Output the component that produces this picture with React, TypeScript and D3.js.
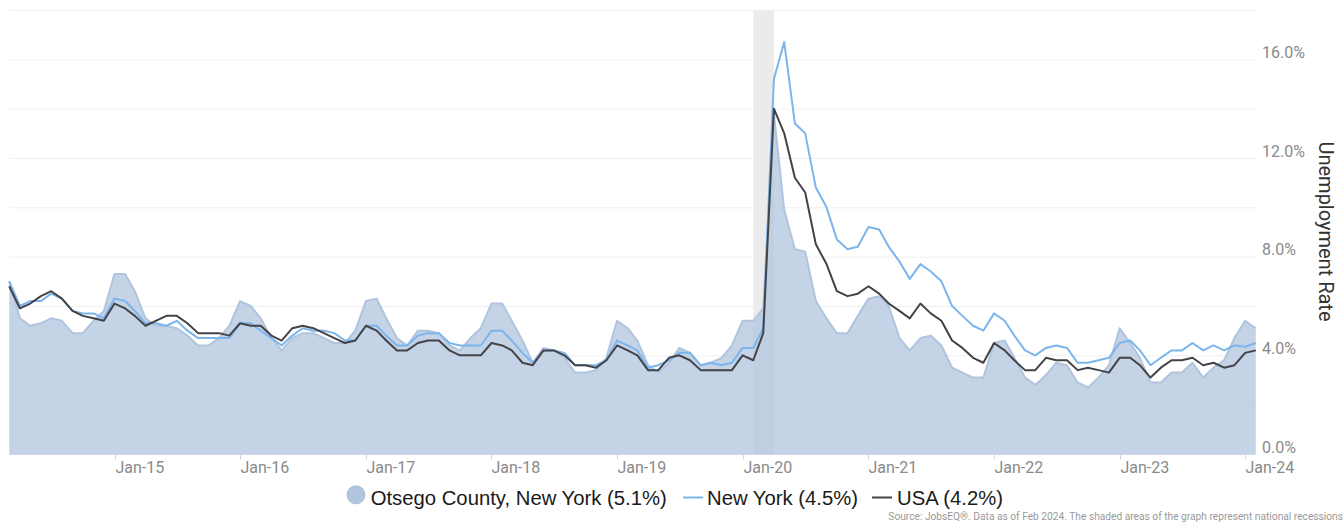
import React from "react";
import * as d3 from "d3";

// Months: Mar 2014 .. Feb 2024 (monthly)
const months: Date[] = d3.timeMonth.range(new Date(2014, 2, 1), new Date(2024, 2, 1));

const otsego: number[] = [
  7.0, 5.5, 5.2, 5.3, 5.5, 5.4, 4.9, 4.9, 5.4, 5.8,
  7.3, 7.3, 6.6, 5.5, 5.2, 5.2, 5.1, 4.8, 4.4, 4.4,
  4.7, 5.2, 6.2, 6.0, 5.5, 4.7, 4.2, 4.7, 4.9, 4.9,
  4.7, 4.5, 4.5, 5.0, 6.2, 6.3, 5.5, 4.7, 4.4, 5.0,
  5.0, 4.9, 4.4, 4.2, 4.7, 5.1, 6.1, 6.1, 5.4, 4.6,
  3.7, 4.3, 4.2, 3.9, 3.3, 3.3, 3.4, 3.9, 5.4, 5.1,
  4.6, 3.6, 3.3, 3.7, 4.3, 4.1, 3.6, 3.7, 3.9, 4.4,
  5.4, 5.4, 5.9, 13.8, 9.9, 8.3, 8.2, 6.2, 5.5, 4.9,
  4.9, 5.6, 6.3, 6.4, 6.0, 4.7, 4.2, 4.7, 4.8, 4.4,
  3.5, 3.3, 3.1, 3.1, 4.5, 4.6, 3.9, 3.1, 2.8, 3.2,
  3.7, 3.6, 2.9, 2.7, 3.1, 3.6, 5.1, 4.5, 3.9, 2.9,
  2.9, 3.3, 3.3, 3.7, 3.1, 3.5, 3.8, 4.7, 5.4, 5.1,
];

const newYork: number[] = [
  7.0, 6.0, 6.2, 6.2, 6.5, 6.3, 5.8, 5.7, 5.7, 5.5,
  6.3, 6.2, 5.8, 5.3, 5.3, 5.2, 5.4, 5.0, 4.7, 4.7,
  4.7, 4.7, 5.3, 5.3, 5.0, 4.7, 4.4, 4.8, 5.1, 5.0,
  5.0, 4.9, 4.6, 4.6, 5.2, 5.2, 4.8, 4.4, 4.4, 4.8,
  4.9, 4.9, 4.5, 4.4, 4.4, 4.4, 5.0, 5.0, 4.6, 4.1,
  3.7, 4.2, 4.2, 4.1, 3.6, 3.6, 3.6, 3.8, 4.6, 4.4,
  4.2, 3.5, 3.6, 3.8, 4.1, 4.1, 3.6, 3.7, 3.6, 3.7,
  4.3, 4.3, 5.1, 15.2, 16.7, 13.4, 13.0, 10.8, 10.0, 8.7,
  8.3, 8.4, 9.2, 9.1, 8.4, 7.8, 7.1, 7.7, 7.4, 7.0,
  6.0, 5.6, 5.2, 5.0, 5.7, 5.4, 4.8, 4.2, 4.0, 4.3,
  4.4, 4.3, 3.7, 3.7, 3.8, 3.9, 4.5, 4.6, 4.2, 3.6,
  3.9, 4.2, 4.2, 4.5, 4.2, 4.4, 4.2, 4.4, 4.35, 4.5,
];

const usa: number[] = [
  6.8, 5.9, 6.1, 6.4, 6.6, 6.3, 5.8, 5.6, 5.5, 5.4,
  6.1, 5.9, 5.6, 5.2, 5.4, 5.6, 5.6, 5.3, 4.9, 4.9,
  4.9, 4.8, 5.3, 5.2, 5.2, 4.8, 4.6, 5.1, 5.2, 5.1,
  4.9, 4.7, 4.5, 4.6, 5.2, 5.0, 4.6, 4.2, 4.2, 4.5,
  4.6, 4.6, 4.2, 4.0, 4.0, 4.0, 4.5, 4.4, 4.2, 3.7,
  3.6, 4.2, 4.2, 4.0, 3.6, 3.6, 3.5, 3.8, 4.4, 4.2,
  4.0, 3.4, 3.4, 3.9, 4.0, 3.8, 3.4, 3.4, 3.4, 3.4,
  4.0, 3.8, 4.9, 14.0, 13.0, 11.2, 10.6, 8.5, 7.7, 6.6,
  6.4, 6.5, 6.8, 6.5, 6.1, 5.8, 5.5, 6.1, 5.7, 5.4,
  4.6, 4.3, 3.9, 3.7, 4.5, 4.2, 3.8, 3.4, 3.4, 3.9,
  3.8, 3.8, 3.4, 3.5, 3.4, 3.3, 3.9, 3.9, 3.6, 3.1,
  3.5, 3.8, 3.8, 3.9, 3.6, 3.7, 3.5, 3.6, 4.1, 4.2,
];

const xTickYears: number[] = [2015, 2016, 2017, 2018, 2019, 2020, 2021, 2022, 2023, 2024];
const yTickLabels: number[] = [0, 4, 8, 12, 16];
const gridValues: number[] = [0, 2, 4, 6, 8, 10, 12, 14, 16, 18];
const recession: [Date, Date] = [new Date(2020, 1, 1), new Date(2020, 3, 1)];

const legendItems = [
  { name: "Otsego County, New York (5.1%)" },
  { name: "New York (4.5%)" },
  { name: "USA (4.2%)" },
];

const W = 1344;
const H = 523;
const AREA_COLOR = "#b0c4de";
const NY_COLOR = "#7cb5ec";
const USA_COLOR = "#434348";

export default function App() {
  const x = d3
    .scaleTime()
    .domain([months[0], months[months.length - 1]])
    .range([9.25, 1255.8]);
  const y = d3.scaleLinear().domain([0, 18]).range([454, 10]);

  const area = d3
    .area<number>()
    .x((_, i) => x(months[i]))
    .y0(y(0))
    .y1((d) => y(d));
  const line = d3
    .line<number>()
    .x((_, i) => x(months[i]))
    .y((d) => y(d));

  const fmtX = d3.timeFormat("%b-%y");
  const x0 = x.range()[0];
  const x1 = x.range()[1];

  return (
    <div style={{ position: "absolute", left: 0, top: 0 }}>
      <svg width={W} height={H} style={{ display: "block", background: "#fff" }}>
        {/* gridlines */}
        {gridValues.map((g) => (
          <line key={g} x1={x0} x2={x1} y1={y(g) + 0.5} y2={y(g) + 0.5} stroke="#efefef" strokeWidth={1} />
        ))}
        {/* recession band */}
        <rect
          x={x(recession[0])}
          y={y(18)}
          width={x(recession[1]) - x(recession[0])}
          height={y(0) - y(18)}
          fill="#ebebeb"
        />
        {/* area */}
        <path d={area(otsego) || ""} fill={AREA_COLOR} fillOpacity={0.75} />
        <path d={line(otsego) || ""} fill="none" stroke={AREA_COLOR} strokeWidth={2} strokeLinejoin="round" />
        <path d={line(newYork) || ""} fill="none" stroke={NY_COLOR} strokeWidth={2} strokeLinejoin="round" />
        <path d={line(usa) || ""} fill="none" stroke={USA_COLOR} strokeWidth={2} strokeLinejoin="round" />

        {/* x axis */}
        <line x1={x0} x2={x1} y1={454.5} y2={454.5} stroke="#ccd6eb" strokeWidth={1} />
        {xTickYears.map((yr) => {
          const d = new Date(yr, 0, 1);
          const tx = Math.round(x(d)) + 0.5;
          return (
            <g key={yr}>
              <line x1={tx} x2={tx} y1={454} y2={459.5} stroke="#ccd6eb" strokeWidth={1} />
              <text x={tx} y={473.3} fontFamily="Roboto, sans-serif" fontSize={16} fill="#8a8a8a" textAnchor="start">
                {fmtX(d)}
              </text>
            </g>
          );
        })}

        {/* y axis labels (right) */}
        {yTickLabels.map((v) => (
          <text key={v} x={1262} y={y(v) - 1.5} fontFamily="Roboto, sans-serif" fontSize={16} fill="#8a8a8a">
            {v.toFixed(1) + "%"}
          </text>
        ))}
        <text
          transform={`translate(1319, 231.5) rotate(90)`}
          textAnchor="middle"
          fontFamily="Roboto, sans-serif"
          fontSize={20}
          fill="#333"
        >
          Unemployment Rate
        </text>

        {/* legend */}
        <circle cx={356} cy={494.7} r={9.5} fill={AREA_COLOR} />
        <text x={370.7} y={505} fontFamily="'Liberation Sans', Arial, sans-serif" fontSize={20.3} fill="#1a1a1a">
          {legendItems[0].name}
        </text>
        <line x1={683} x2={703} y1={497.5} y2={497.5} stroke={NY_COLOR} strokeWidth={2} />
        <text x={707} y={505} fontFamily="'Liberation Sans', Arial, sans-serif" fontSize={20.3} fill="#1a1a1a">
          {legendItems[1].name}
        </text>
        <line x1={872} x2={892} y1={497.5} y2={497.5} stroke={USA_COLOR} strokeWidth={2} />
        <text x={897} y={505} fontFamily="'Liberation Sans', Arial, sans-serif" fontSize={20.3} fill="#1a1a1a">
          {legendItems[2].name}
        </text>

        {/* source */}
        <text x={1343} y={520} textAnchor="end" fontFamily="Roboto, sans-serif" fontSize={10.2} fill="#999">
          Source: JobsEQ®. Data as of Feb 2024. The shaded areas of the graph represent national recessions
        </text>
      </svg>
    </div>
  );
}
